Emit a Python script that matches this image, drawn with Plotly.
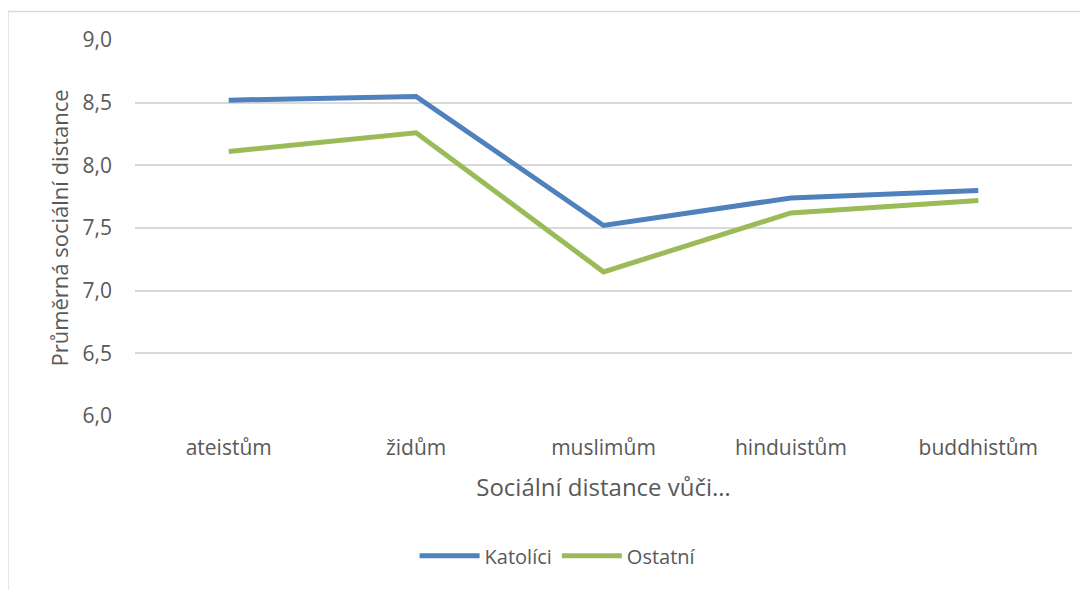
import plotly.graph_objects as go

categories = ["ateistům", "židům", "muslimům", "hinduistům", "buddhistům"]
katolici = [8.52, 8.55, 7.52, 7.74, 7.80]
ostatni = [8.11, 8.26, 7.15, 7.62, 7.72]

FONT = "Open Sans"
GREY = "#595959"

# the page body adds an 8px offset; margins below compensate for it
L, R, T, B = 127, 24, 32, 182
PW = 1088 - L - R
PH = 590 - T - B

fig = go.Figure()
fig.add_trace(go.Scatter(x=categories, y=katolici, mode="lines", name="Katolíci",
                         line=dict(color="#4f81bd", width=5)))
fig.add_trace(go.Scatter(x=categories, y=ostatni, mode="lines", name="Ostatní",
                         line=dict(color="#9bbb59", width=5)))

fig.update_layout(
    width=1088, height=590,
    margin=dict(l=L, r=R, t=T, b=B, autoexpand=False),
    paper_bgcolor="white", plot_bgcolor="white",
    separators=", ",
    font=dict(family=FONT, color=GREY, size=20),
    showlegend=True,
    legend=dict(orientation="h", x=0.451, xanchor="center", y=-0.372, yanchor="middle",
                font=dict(size=20, color=GREY), itemwidth=60, traceorder="normal"),
    xaxis=dict(showgrid=False, showline=False, ticks="", zeroline=False,
               range=[-0.5, 4.5],
               tickfont=dict(size=21, color=GREY), ticklabelstandoff=17,
               title=dict(text="Sociální distance vůči…", font=dict(size=24, color=GREY), standoff=19)),
    yaxis=dict(range=[6.0, 9.0], dtick=0.5, tick0=6.0, tickformat=".1f",
               showgrid=True, gridcolor="#d9d9d9", gridwidth=1.5, zeroline=False,
               showline=False, ticks="", ticklabelstandoff=22,
               tickfont=dict(size=21, color=GREY),
               title=dict(text="Průměrná sociální distance", font=dict(size=22, color=GREY), standoff=7)),
    shapes=[dict(type="rect", xref="paper", yref="paper",
                 x0=(0 - L) / PW, x1=1.2, y0=-0.6, y1=1 + (T - 3.5) / PH,
                 line=dict(color="#d9d9d9", width=1.3), layer="below")],
)

fig.write_html("out.html")
